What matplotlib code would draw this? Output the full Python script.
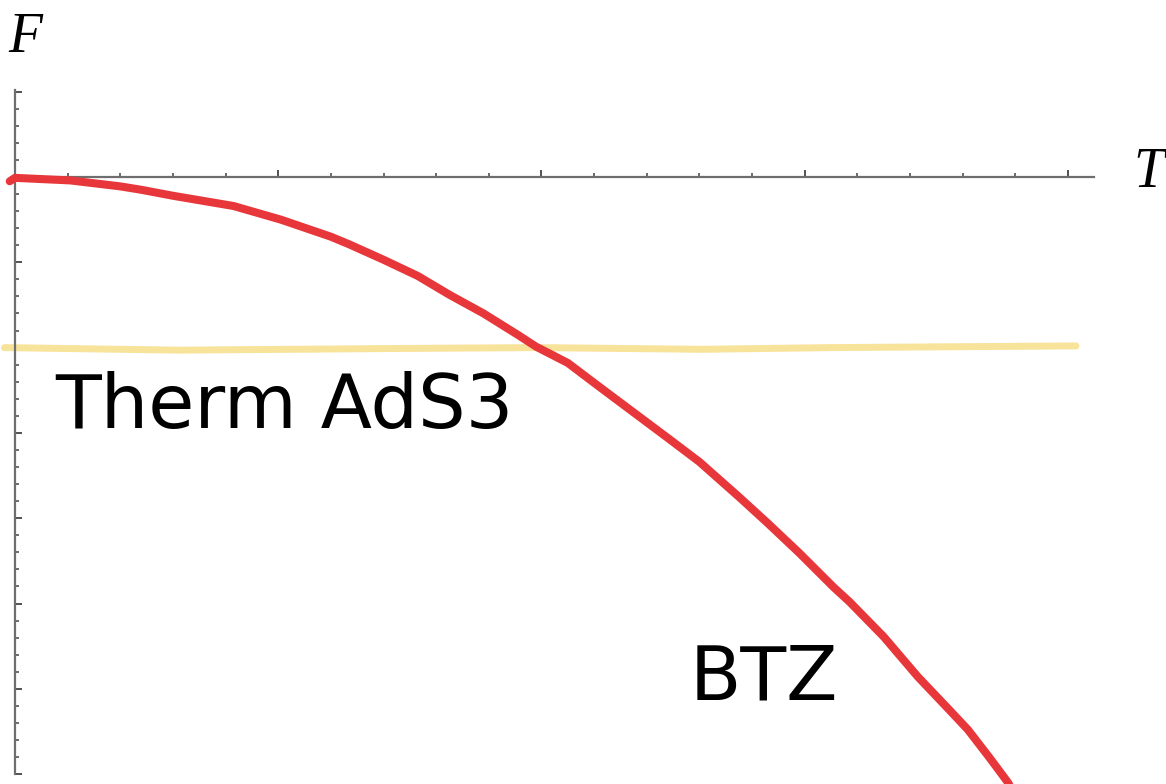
import matplotlib.pyplot as plt
import numpy as np

# BTZ free energy
btz_T = [-0.02, 0.0, 0.21, 0.40, 0.48, 0.60, 0.83, 1.01, 1.20, 1.27, 1.40, 1.53,
         1.65, 1.78, 1.91, 1.98, 2.10, 2.22, 2.35, 2.48, 2.60, 2.75, 2.86, 2.98,
         3.11, 3.17, 3.30, 3.43, 3.55, 3.62, 3.70, 3.77, 3.79]
btz_F = [-0.05, -0.01, -0.04, -0.11, -0.15, -0.22, -0.34, -0.50, -0.70, -0.79,
         -0.97, -1.16, -1.38, -1.60, -1.85, -1.99, -2.18, -2.46, -2.76, -3.06,
         -3.34, -3.75, -4.06, -4.41, -4.81, -4.98, -5.39, -5.86, -6.25, -6.48,
         -6.80, -7.09, -7.19]

# thermal AdS3 (flat line)
ads_T = [-0.04, 0.62, 1.47, 1.98, 2.61, 3.10, 4.03]
ads_F = [-2.00, -2.03, -2.01, -2.00, -2.02, -2.00, -1.98]

fig = plt.figure(figsize=(11.66, 7.84), dpi=100)
ax = fig.add_axes([0, 0, 1, 1])

ax.plot(ads_T, ads_F, color='#f7e39a', lw=5, solid_capstyle='round', zorder=2)
ax.plot(btz_T, btz_F, color='#e8373b', lw=5.8, solid_capstyle='round',
        solid_joinstyle='round', zorder=3)

ax.set_xlim(-15 / 263.25, 1151 / 263.25)
ax.set_ylim(-607 / 85.3, 177 / 85.3)

# Mathematica style axes through the origin
for s in ['top', 'right']:
    ax.spines[s].set_visible(False)
ax.spines['left'].set_position(('data', 0))
ax.spines['bottom'].set_position(('data', 0))
ax.spines['left'].set_bounds(-7, 1.02)
ax.spines['bottom'].set_bounds(0, 4.10)
for s in ['left', 'bottom']:
    ax.spines[s].set_color('#6e6e6e')
    ax.spines[s].set_linewidth(1.6)

ax.xaxis.set_major_locator(plt.FixedLocator([1, 2, 3, 4]))
ax.xaxis.set_minor_locator(plt.FixedLocator(np.arange(1, 21) * 0.2))
ax.yaxis.set_major_locator(plt.FixedLocator([-7, -6, -5, -4, -3, -2, -1, 1]))
ax.yaxis.set_minor_locator(plt.FixedLocator(
    [v * 0.2 for v in range(-35, 6) if v != 0]))
ax.tick_params(which='both', direction='in', labelbottom=False,
               labelleft=False, color='#444444')
ax.tick_params(which='major', length=5, width=1.3)
ax.tick_params(which='minor', length=3.2, width=1.1)

ax.text(-0.027, 1.465, 'F', fontsize=40, family='Liberation Serif',
        style='italic', va='baseline', ha='left')
ax.text(4.247, -0.117, 'T', fontsize=40, family='Liberation Serif',
        style='italic', va='baseline', ha='left')

ax.text(0.152, -2.94, 'Therm AdS3', fontsize=54, family='DejaVu Sans',
        va='baseline', ha='left')
ax.text(2.564, -6.13, 'BTZ', fontsize=54, family='DejaVu Sans',
        va='baseline', ha='left')

fig.savefig('out.png', dpi=100)
